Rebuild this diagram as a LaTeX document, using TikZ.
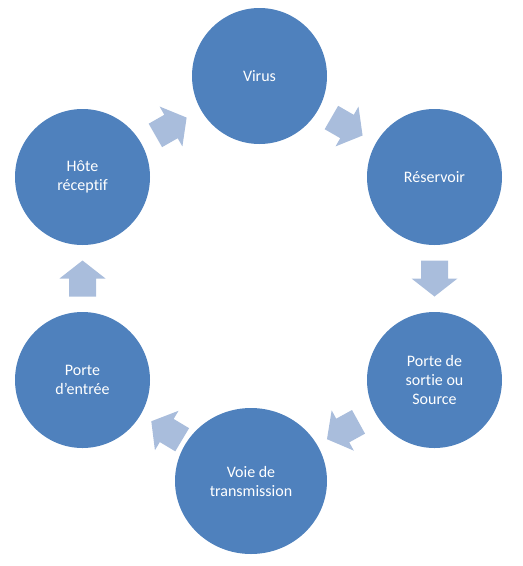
\documentclass[tikz,border=0pt]{standalone}
\usepackage{fontspec}
\setmainfont{Carlito}[Ligatures=NoCommon]
\usetikzlibrary{calc,shapes.geometric}
\definecolor{cercle}{HTML}{4F81BD}
\definecolor{flechebleue}{HTML}{A9BDDC}
\tikzset{
  etape/.style={ellipse,fill=cercle,text=white,align=center,inner sep=0pt,
    minimum width=135,minimum height=136,font=\fontsize{16}{19}\selectfont},
  bloc/.pic={\fill[flechebleue] (-18,-13.5) -- (0,-13.5) -- (0,-23) -- (18,0)
    -- (0,23) -- (0,13.5) -- (-18,13.5) -- cycle;}
}
\begin{document}
\begin{tikzpicture}[x=1pt,y=1pt]
  \useasboundingbox (0,0) rectangle (523,-566);
  \node[etape] (virus) at (259.5,-76) {Virus};
  \node[etape] (reservoir) at (434.5,-177) {Réservoir};
  \node[etape] (sortie) at (434.5,-380) {Porte de\\sortie ou\\Source};
  \node[etape,minimum width=152,minimum height=146] (voie) at (251,-481) {Voie de\\transmission};
  \node[etape] (entree) at (82.5,-380) {Porte\\d’entrée};
  \node[etape] (hote) at (82.5,-177) {Hôte\\réceptif};
  \foreach \a/\b in {virus/reservoir,reservoir/sortie,sortie/voie,voie/entree,entree/hote,hote/virus}{
    \path let \p1=($(\b)-(\a)$), \n1={atan2(\y1,\x1)} in
      ($(\a)!0.5!(\b)$) pic[rotate=\n1] {bloc};
  }
\end{tikzpicture}
\end{document}
